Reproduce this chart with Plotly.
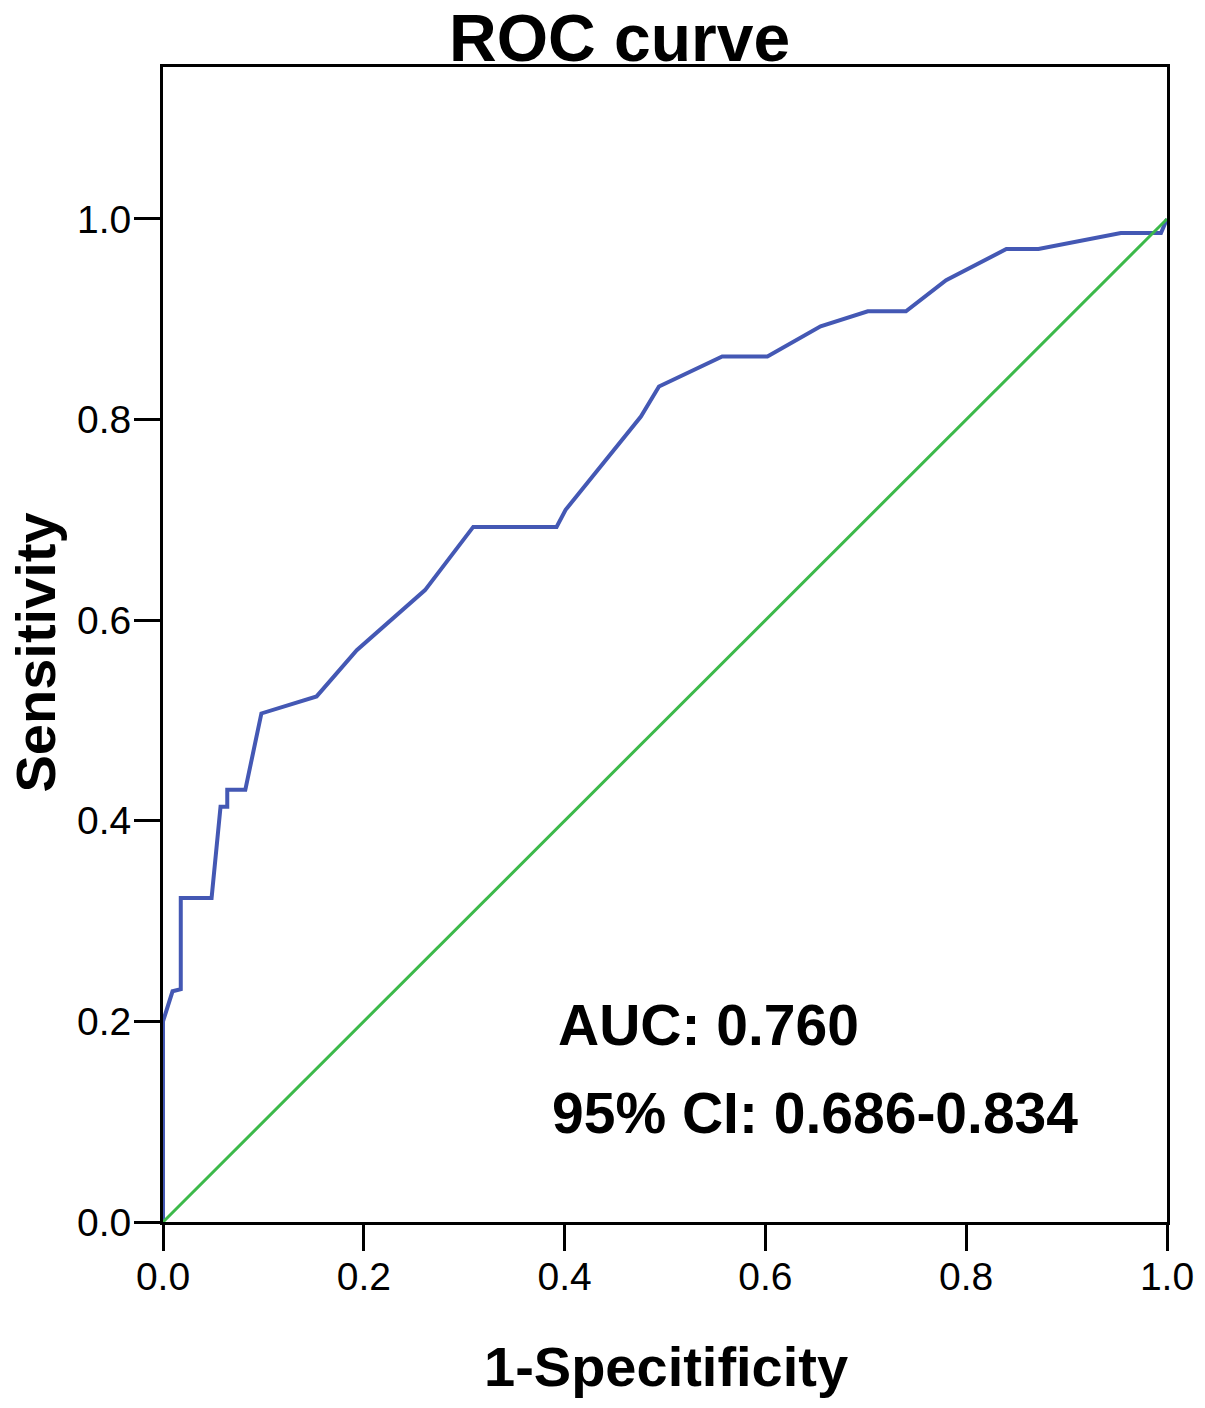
import plotly.graph_objects as go

# ROC curve points
fpr = [0, 0, 0.0095, 0.0177, 0.0177, 0.0484, 0.0573, 0.064, 0.064, 0.082, 0.098,
       0.153, 0.193, 0.261, 0.309, 0.392, 0.401, 0.476, 0.494, 0.557, 0.602, 0.655,
       0.702, 0.740, 0.780, 0.840, 0.872, 0.954, 0.994, 1.0]
tpr = [0, 0.20, 0.230, 0.232, 0.323, 0.323, 0.414, 0.414, 0.431, 0.431, 0.507,
       0.524, 0.570, 0.630, 0.693, 0.693, 0.710, 0.803, 0.833, 0.863, 0.863, 0.893,
       0.908, 0.908, 0.939, 0.970, 0.970, 0.986, 0.986, 1.0]
ref_x = [0, 1]
ref_y = [0, 1]
tick_vals = [0.0, 0.2, 0.4, 0.6, 0.8, 1.0]
tick_text = ["0.0", "0.2", "0.4", "0.6", "0.8", "1.0"]

FONT = "Liberation Sans, Arial, sans-serif"

fig = go.Figure()
fig.add_trace(go.Scatter(x=fpr, y=tpr, mode="lines",
                         line=dict(color="#4458b4", width=4), showlegend=False))
fig.add_trace(go.Scatter(x=ref_x, y=ref_y, mode="lines",
                         line=dict(color="#3cb94a", width=3), showlegend=False))

fig.update_layout(
    width=1205, height=1408,
    margin=dict(l=163, r=38, t=67, b=186),
    paper_bgcolor="white", plot_bgcolor="white",
    font=dict(family=FONT, color="black"),
)
fig.update_xaxes(range=[0, 1], tickvals=tick_vals, ticktext=tick_text,
                 showgrid=False, zeroline=False, showline=True, linecolor="black",
                 linewidth=3, mirror=True, ticks="outside", ticklen=26, tickwidth=3,
                 tickcolor="black", tickfont=dict(size=39, family=FONT),
                 ticklabelstandoff=-8)
fig.update_yaxes(range=[0, 1.1515], tickvals=tick_vals, ticktext=tick_text,
                 showgrid=False, zeroline=False, showline=True, linecolor="black",
                 linewidth=3, mirror=True, ticks="outside", ticklen=26, tickwidth=3,
                 tickcolor="black", tickfont=dict(size=39, family=FONT),
                 ticklabelstandoff=-5)

bold = dict(family="Liberation Sans, Arial, sans-serif", color="black")
fig.add_annotation(text="<b>ROC curve</b>", xref="paper", yref="paper",
                   x=0.455, y=1.0252, showarrow=False, xanchor="center", yanchor="middle",
                   font=dict(size=66, **bold))
fig.add_annotation(text="<b>1-Specitificity</b>", xref="paper", yref="paper",
                   x=0.501, y=-0.1250, showarrow=False, xanchor="center", yanchor="middle",
                   font=dict(size=56, **bold))
fig.add_annotation(text="<b>Sensitivity</b>", xref="paper", yref="paper",
                   x=-0.127, y=0.4935, showarrow=False, xanchor="center", yanchor="middle",
                   textangle=-90, font=dict(size=56, **bold))
fig.add_annotation(text="<b>AUC: 0.760</b>", xref="x", yref="y",
                   x=0.391, y=0.196, showarrow=False, xanchor="left", yanchor="middle",
                   font=dict(size=57, **bold))
fig.add_annotation(text="<b>95% CI: 0.686-0.834</b>", xref="x", yref="y",
                   x=0.385, y=0.109, showarrow=False, xanchor="left", yanchor="middle",
                   font=dict(size=57, **bold))

fig.write_html("out.html", config={"displayModeBar": False},
               post_script="document.body.style.margin='0';")
